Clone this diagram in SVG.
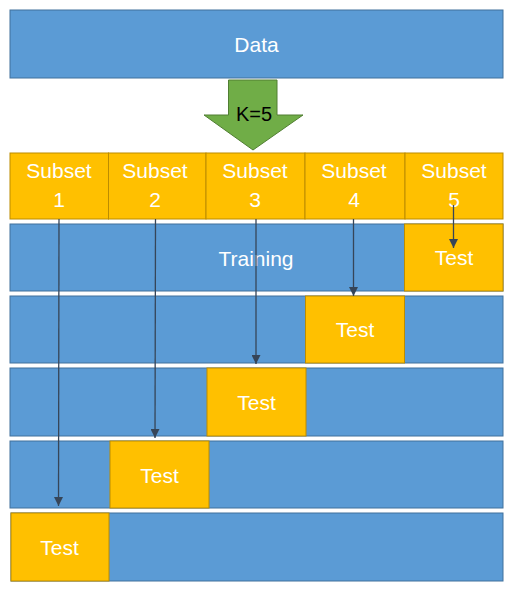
<svg xmlns="http://www.w3.org/2000/svg" width="510" height="590" viewBox="0 0 510 590">
<style>
.blue{fill:#5B9BD5;stroke:#41719C;stroke-width:1}
.or{fill:#FFC000;stroke:#BC8C00;stroke-width:1}
.t{font-family:"Liberation Sans",Arial,sans-serif;font-size:21px;fill:#FFFFFF;text-anchor:middle}
.k{font-family:"Liberation Sans",Arial,sans-serif;font-size:20px;fill:#000000;text-anchor:middle}
.c{stroke:#364558;stroke-width:1.3;fill:none;marker-end:url(#ah)}
</style>
<defs>
<marker id="ah" viewBox="0 0 10 10" refX="10" refY="5" markerWidth="9" markerHeight="9" markerUnits="userSpaceOnUse" orient="auto">
<path d="M0,0 L10,5 L0,10 Z" fill="#364558"/>
</marker>
</defs>
<rect width="510" height="590" fill="#FFFFFF"/>
<g id="data">
<rect class="blue" x="10" y="10" width="493" height="68"/>
<text class="t" x="256.5" y="52">Data</text>
</g>
<g id="split-arrow">
<path d="M228.5,80 H277 V115 H303 L253,150 L204,115 H228.5 Z" fill="#70AD47" stroke="#507E32" stroke-width="1"/>
<text class="k" x="254" y="121">K=5</text>
</g>
<g id="subsets">
<g id="subset1"><rect class="or" x="10" y="153" width="98.5" height="66"/><text class="t" x="59" y="178">Subset</text><text class="t" x="59" y="207">1</text></g>
<g id="subset2"><rect class="or" x="108.5" y="153" width="97.5" height="66"/><text class="t" x="155" y="178">Subset</text><text class="t" x="155" y="207">2</text></g>
<g id="subset3"><rect class="or" x="206" y="153" width="99" height="66"/><text class="t" x="255" y="178">Subset</text><text class="t" x="255" y="207">3</text></g>
<g id="subset4"><rect class="or" x="305" y="153" width="100" height="66"/><text class="t" x="354" y="178">Subset</text><text class="t" x="354" y="207">4</text></g>
<g id="subset5"><rect class="or" x="405" y="153" width="98" height="66"/><text class="t" x="454" y="178">Subset</text><text class="t" x="454" y="207">5</text></g>
</g>
<g id="fold1">
<rect class="blue" x="10" y="224" width="493" height="67"/>
<rect class="or" x="404.5" y="224" width="98.5" height="67"/>
<text class="t" x="256" y="266">Training</text>
<text class="t" x="454" y="265">Test</text>
</g>
<g id="fold2">
<rect class="blue" x="10" y="296" width="493" height="67"/>
<rect class="or" x="305.5" y="296" width="99" height="67"/>
<text class="t" x="355" y="337">Test</text>
</g>
<g id="fold3">
<rect class="blue" x="10" y="368" width="493" height="68"/>
<rect class="or" x="207" y="368" width="99" height="68"/>
<text class="t" x="256.5" y="410">Test</text>
</g>
<g id="fold4">
<rect class="blue" x="10" y="441" width="493" height="67"/>
<rect class="or" x="110" y="441" width="99" height="67"/>
<text class="t" x="159.5" y="483">Test</text>
</g>
<g id="fold5">
<rect class="blue" x="11" y="513" width="492" height="68"/>
<rect class="or" x="11" y="513" width="98" height="68"/>
<text class="t" x="59.5" y="555">Test</text>
</g>
<g id="connectors">
<line class="c" x1="59" y1="219" x2="58.5" y2="506"/>
<line class="c" x1="155.5" y1="219" x2="155" y2="438"/>
<line class="c" x1="256" y1="219" x2="256" y2="364"/>
<line class="c" x1="353.5" y1="219" x2="353.5" y2="296"/>
<line class="c" x1="453.5" y1="205" x2="453.5" y2="248"/>
</g>
</svg>
